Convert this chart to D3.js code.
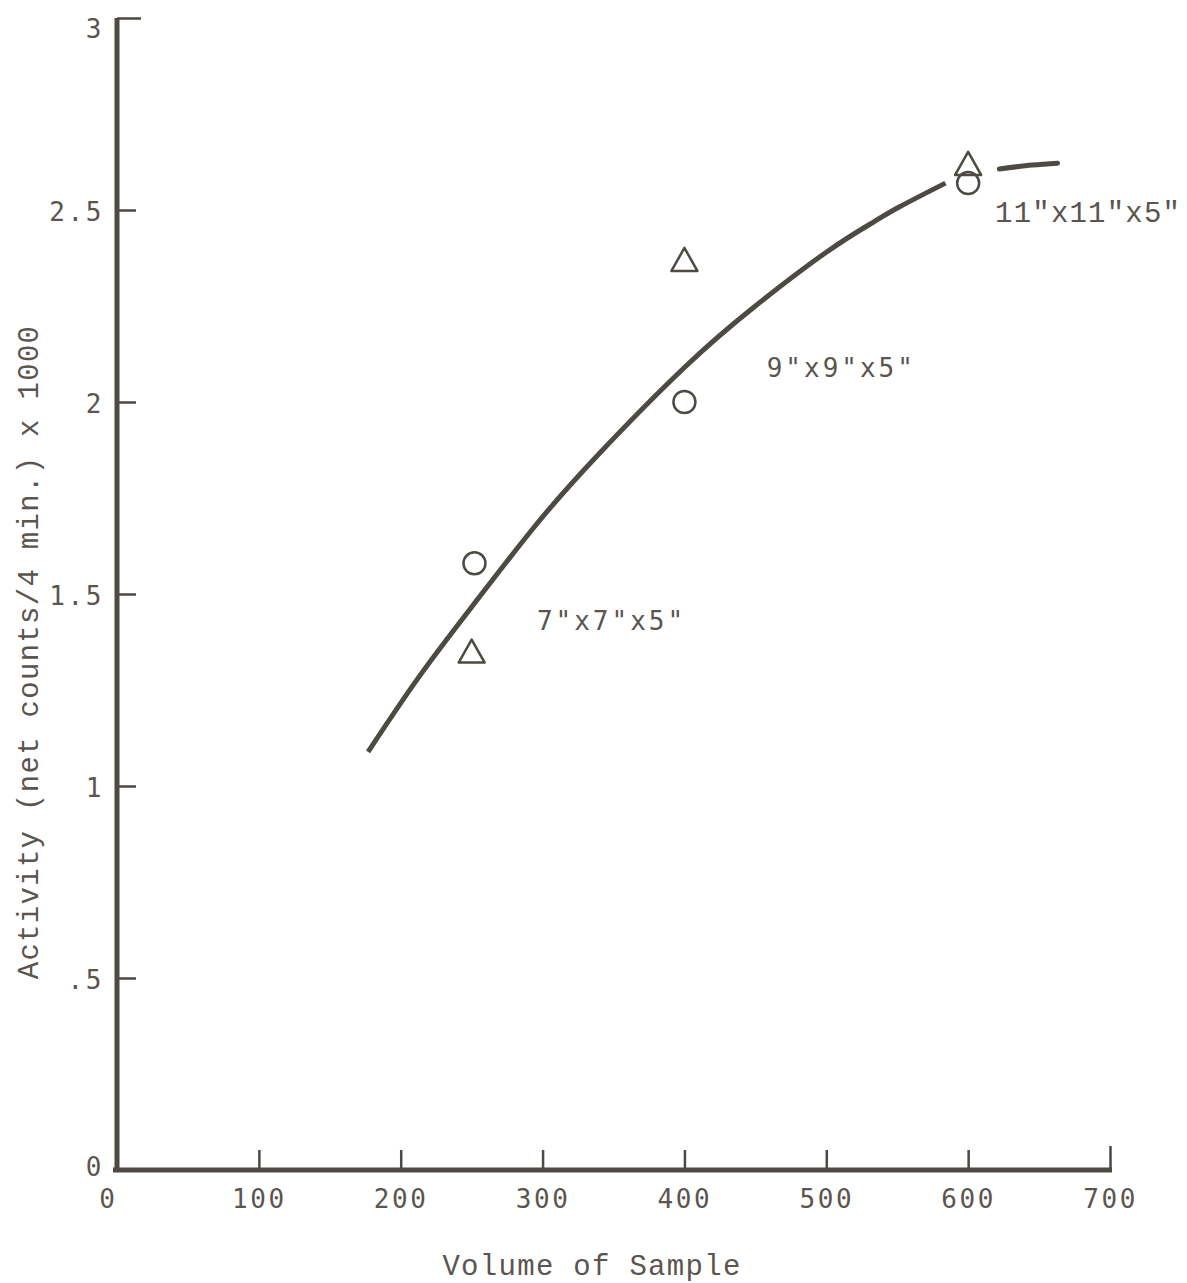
<!DOCTYPE html>
<html>
<head>
<meta charset="utf-8">
<script src="https://cdn.jsdelivr.net/npm/d3@7/dist/d3.min.js"></script>
<style>
  html, body { margin: 0; padding: 0; background: #ffffff; }
  svg { display: block; }
  .tick text { font-family: "DejaVu Sans Mono", monospace; font-size: 26px; fill: #5a554e; letter-spacing: 2.6px; }
  .title { font-family: "Liberation Mono", "Courier New", monospace; font-size: 29px; fill: #5a554e; letter-spacing: 1.3px; }
  .note { font-family: "DejaVu Sans Mono", monospace; font-size: 26px; fill: #5a554e; letter-spacing: 3px; }
  .note.serif { font-family: "Liberation Mono", "Courier New", monospace; font-size: 29px; letter-spacing: 1.2px; }
</style>
</head>
<body>
<svg id="chart" width="1187" height="1283"></svg>
<script>
// Axis ticks
const xTicks = [0, 100, 200, 300, 400, 500, 600, 700];
const yTicks = [0, 0.5, 1, 1.5, 2, 2.5, 3];
const yTickLabels = ["0", ".5", "1", "1.5", "2", "2.5", "3"];

// Measured samples: volume vs. activity
const circleVolume = [252, 400, 600];
const circleActivity = [1.58, 2.00, 2.57];
const triangleVolume = [250, 400, 600];
const triangleActivity = [1.35, 2.37, 2.62];

// Hand-drawn fit curve (two pieces, broken around the 600 markers)
const curveVolume = [177, 214, 255, 296, 340, 400, 450, 500, 533, 552, 584];
const curveActivity = [1.089, 1.29, 1.49, 1.683, 1.866, 2.09, 2.25, 2.39, 2.468, 2.509, 2.57];
const tailVolume = [622, 645, 663];
const tailActivity = [2.607, 2.617, 2.622];

// Box size annotations
const boxLabels = ['7"x7"x5"', '9"x9"x5"', '11"x11"x5"'];
const boxLabelVolume = [296, 458, 619];
const boxLabelActivity = [1.43, 2.09, 2.495];

const ink = "#4d4943";
const svg = d3.select("#chart");

const x = d3.scaleLinear().domain([0, 700]).range([117, 1110]);
const y = d3.scaleLinear().domain([0, 3]).range([1170, 18]);

// x axis, ticks pointing into the plot
const gx = svg.append("g")
  .attr("transform", `translate(0,${y(0)})`)
  .call(d3.axisBottom(x).tickValues(xTicks).tickFormat(d3.format("d"))
    .tickSizeInner(-20).tickSizeOuter(0).tickPadding(20));
gx.select(".domain").attr("stroke", ink).attr("stroke-width", 5)
  .attr("d", `M${x(0) - 4},0H${x(700) + 2}`);
gx.selectAll(".tick line").attr("stroke", ink).attr("stroke-width", 2.5);
gx.selectAll(".tick").filter(d => d === 0).select("line").remove();
gx.selectAll(".tick").filter(d => d === 700).select("line").attr("y2", -24);
gx.selectAll(".tick").filter(d => d === 0).select("text").attr("dx", "-0.35em");

// y axis, ticks pointing into the plot
const gy = svg.append("g")
  .attr("transform", `translate(${x(0)},0)`)
  .call(d3.axisLeft(y).tickValues(yTicks)
    .tickFormat((d, i) => yTickLabels[i])
    .tickSizeInner(-19).tickSizeOuter(0).tickPadding(13));
gy.select(".domain").attr("stroke", ink).attr("stroke-width", 5)
  .attr("d", `M0,${y(3)}V${y(0) + 2}`);
gy.selectAll(".tick line").attr("stroke", ink).attr("stroke-width", 2.5);
gy.selectAll(".tick").filter(d => d === 0).select("line").remove();
gy.selectAll(".tick").filter(d => d === 3).select("line").attr("x2", 24);
gy.selectAll(".tick text").attr("dy", "0.42em");
gy.selectAll(".tick").filter(d => d === 3).select("text").attr("dy", "0.75em");
gy.selectAll(".tick").filter(d => d === 0).select("text").attr("dy", "0.2em");

// axis titles
svg.append("text").attr("class", "title")
  .attr("x", 592).attr("y", 1275).attr("text-anchor", "middle")
  .text("Volume of Sample");
svg.append("text").attr("class", "title")
  .attr("transform", "translate(38,652) rotate(-90)")
  .attr("text-anchor", "middle")
  .text("Activity (net counts/4 min.) x 1000");

// fit curve
const line = d3.line().x(d => x(d[0])).y(d => y(d[1])).curve(d3.curveNatural);
svg.append("path")
  .datum(d3.zip(curveVolume, curveActivity))
  .attr("d", line).attr("fill", "none").attr("stroke", ink)
  .attr("stroke-width", 5).attr("stroke-linecap", "butt");
svg.append("path")
  .datum(d3.zip(tailVolume, tailActivity))
  .attr("d", line).attr("fill", "none").attr("stroke", ink)
  .attr("stroke-width", 5).attr("stroke-linecap", "round");

// open circles
svg.append("g").selectAll("circle")
  .data(d3.zip(circleVolume, circleActivity))
  .join("circle")
  .attr("cx", d => x(d[0])).attr("cy", d => y(d[1])).attr("r", 11)
  .attr("fill", "none").attr("stroke", ink).attr("stroke-width", 2.5);

// open triangles
svg.append("g").selectAll("path")
  .data(d3.zip(triangleVolume, triangleActivity))
  .join("path")
  .attr("transform", d => `translate(${x(d[0])},${y(d[1])})`)
  .attr("d", "M0,-12L13,11L-13,11Z")
  .attr("fill", "none").attr("stroke", ink).attr("stroke-width", 2.5)
  .attr("stroke-linejoin", "round");

// box size labels
svg.append("g").selectAll("text")
  .data(boxLabels)
  .join("text")
  .attr("class", (d, i) => i === 2 ? "note serif" : "note")
  .attr("x", (d, i) => x(boxLabelVolume[i]))
  .attr("y", (d, i) => y(boxLabelActivity[i]))
  .attr("dy", "0.35em")
  .text(d => d);
</script>
</body>
</html>
